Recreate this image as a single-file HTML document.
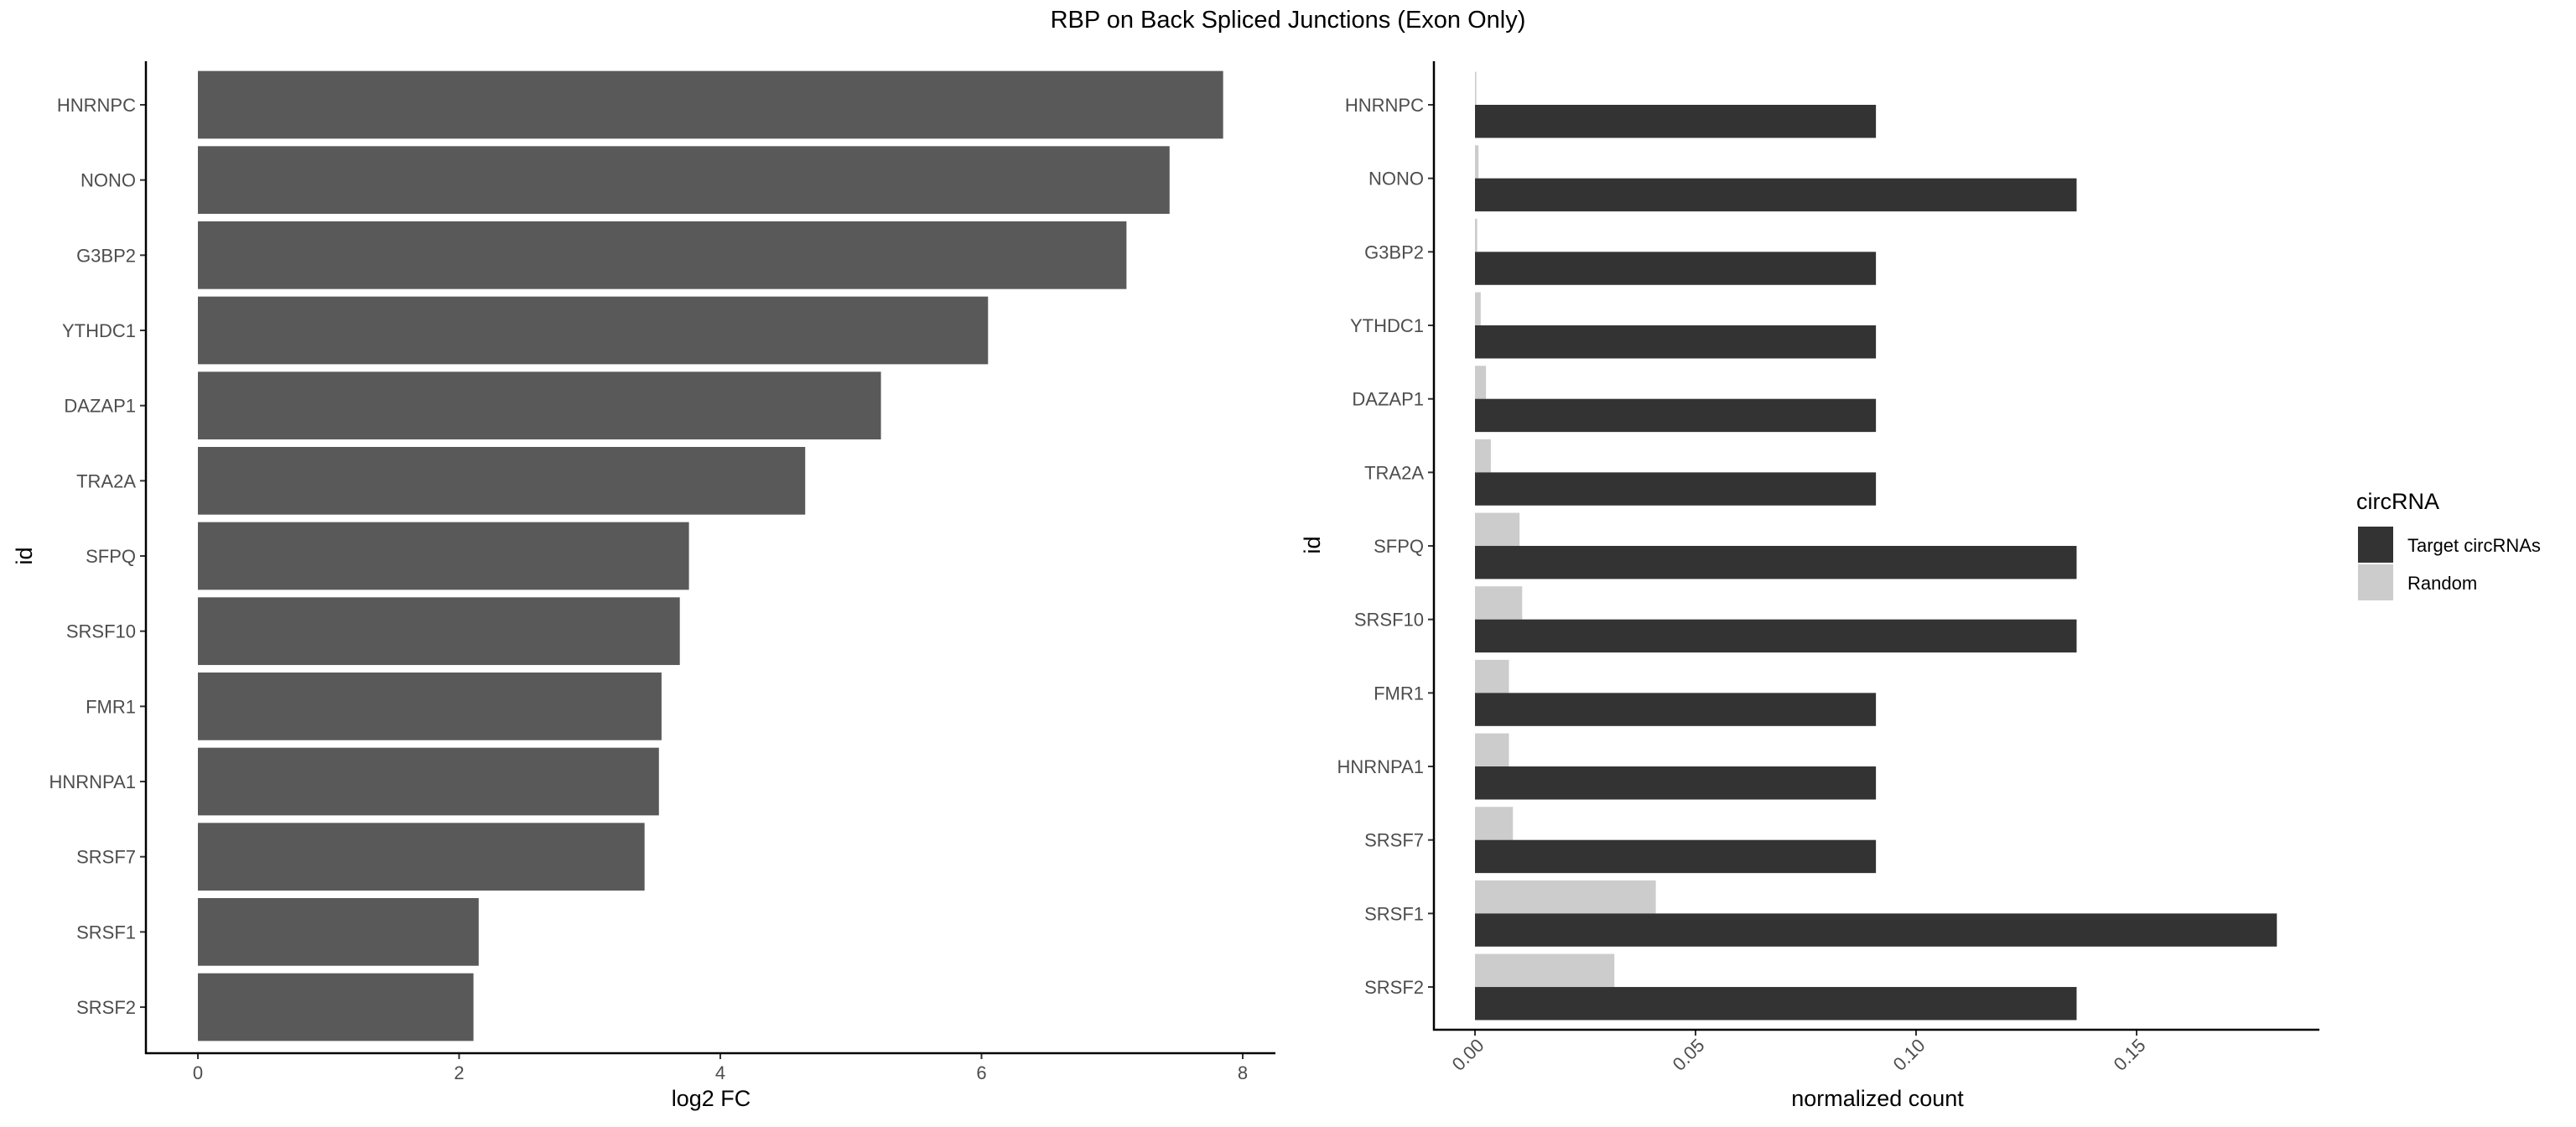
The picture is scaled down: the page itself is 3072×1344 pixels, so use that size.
<!DOCTYPE html>
<html><head><meta charset="utf-8"><style>
html,body{margin:0;padding:0;background:#fff;overflow:hidden;}
svg{display:block;font-family:"Liberation Sans",sans-serif;}
</style></head><body>
<svg id="chart" width="3072" height="1344" viewBox="0 0 3072 1344">
<text x="1536" y="33" text-anchor="middle" font-size="29" fill="#000">RBP on Back Spliced Junctions (Exon Only)</text>
<g id="left"></g>
<g id="right"></g>
<g id="legend">
<text x="2810" y="607" font-size="27" fill="#000">circRNA</text>
<rect x="2812" y="628" width="42" height="43" fill="#333333"/>
<rect x="2812" y="673" width="42" height="43" fill="#cccccc"/>
<text x="2871" y="658" font-size="22" fill="#000">Target circRNAs</text>
<text x="2871" y="703" font-size="22" fill="#000">Random</text>
</g>
</svg>
<script>
const categories = ["HNRNPC","NONO","G3BP2","YTHDC1","DAZAP1","TRA2A","SFPQ","SRSF10","FMR1","HNRNPA1","SRSF7","SRSF1","SRSF2"];
const log2fc = [7.85,7.44,7.11,6.05,5.23,4.65,3.76,3.69,3.55,3.53,3.42,2.15,2.11];
const targetCounts = [0.0909,0.1364,0.0909,0.0909,0.0909,0.0909,0.1364,0.1364,0.0909,0.0909,0.0909,0.1818,0.1364];
const randomCounts = [0.0003,0.0008,0.0005,0.0013,0.0025,0.0036,0.0101,0.0107,0.0077,0.0077,0.0086,0.041,0.0316];
const leftTicks = [0,2,4,6,8];
const rightTicks = [0,0.05,0.10,0.15];
const rightTickLabels = ["0.00","0.05","0.10","0.15"];

const NS="http://www.w3.org/2000/svg";
function mk(parent,tag,attrs){const e=document.createElementNS(NS,tag);for(const k in attrs)e.setAttribute(k,attrs[k]);parent.appendChild(e);return e;}

// Left panel
const L=document.getElementById('left');
const lx=v=>236+v*155.75;
const ly=i=>125+i*89.67;
const lBand=80.7;
categories.forEach((c,i)=>{
  const r=mk(L,'rect',{x:lx(0),y:ly(i)-lBand/2,width:lx(log2fc[i])-lx(0),height:lBand,fill:'#595959'});
  
  
  const t=mk(L,'line',{x1:167,x2:174,y1:ly(i),y2:ly(i),stroke:'#333','stroke-width':2});
  
  
  const tx=mk(L,'text',{x:162,y:ly(i)+8,'text-anchor':'end','font-size':22,fill:'#4d4d4d'});
  tx.textContent=c;
  
  
});
leftTicks.forEach(v=>{
  const t=mk(L,'line',{x1:lx(v),x2:lx(v),y1:1256,y2:1263,stroke:'#333','stroke-width':2});
  
  
  const tx=mk(L,'text',{x:lx(v),y:1287,'text-anchor':'middle','font-size':22,fill:'#4d4d4d'});
  tx.textContent=v;
  
  
});
let a=mk(L,'line',{x1:174,x2:174,y1:73,y2:1257,stroke:'#000','stroke-width':2.5});

a=mk(L,'line',{x1:173,x2:1521,y1:1256,y2:1256,stroke:'#000','stroke-width':2.5});

a=mk(L,'text',{x:848,y:1319,'text-anchor':'middle','font-size':27,fill:'#000'});a.textContent='log2 FC';

a=mk(L,'text',{x:0,y:0,'text-anchor':'middle','font-size':27,fill:'#000',transform:'translate(38,663) rotate(-90)'});a.textContent='id';


// Right panel
const R=document.getElementById('right');
const rx=v=>1759+v*5260;
const ry=i=>125+i*87.67;
const half=39.45;
categories.forEach((c,i)=>{
  const r1=mk(R,'rect',{x:rx(0),y:ry(i)-half,width:rx(randomCounts[i])-rx(0),height:half,fill:'#cccccc'});
  
  
  const r2=mk(R,'rect',{x:rx(0),y:ry(i),width:rx(targetCounts[i])-rx(0),height:half,fill:'#333333'});
  
  
  const t=mk(R,'line',{x1:1703,x2:1710,y1:ry(i),y2:ry(i),stroke:'#333','stroke-width':2});
  
  
  const tx=mk(R,'text',{x:1698,y:ry(i)+8,'text-anchor':'end','font-size':22,fill:'#4d4d4d'});
  tx.textContent=c;
  
  
});
rightTicks.forEach((v,k)=>{
  const t=mk(R,'line',{x1:rx(v),x2:rx(v),y1:1228,y2:1235,stroke:'#333','stroke-width':2});
  
  
  const tx=mk(R,'text',{x:0,y:0,'text-anchor':'end','font-size':22,fill:'#4d4d4d',transform:'translate('+(rx(v)+12)+',1248) rotate(-45)'});
  tx.textContent=rightTickLabels[k];
  
  
});
a=mk(R,'line',{x1:1710,x2:1710,y1:73,y2:1229,stroke:'#000','stroke-width':2.5});

a=mk(R,'line',{x1:1709,x2:2766,y1:1228,y2:1228,stroke:'#000','stroke-width':2.5});

a=mk(R,'text',{x:2239,y:1319,'text-anchor':'middle','font-size':27,fill:'#000'});a.textContent='normalized count';

a=mk(R,'text',{x:0,y:0,'text-anchor':'middle','font-size':27,fill:'#000',transform:'translate(1574,650) rotate(-90)'});a.textContent='id';

</script>
</body></html>
